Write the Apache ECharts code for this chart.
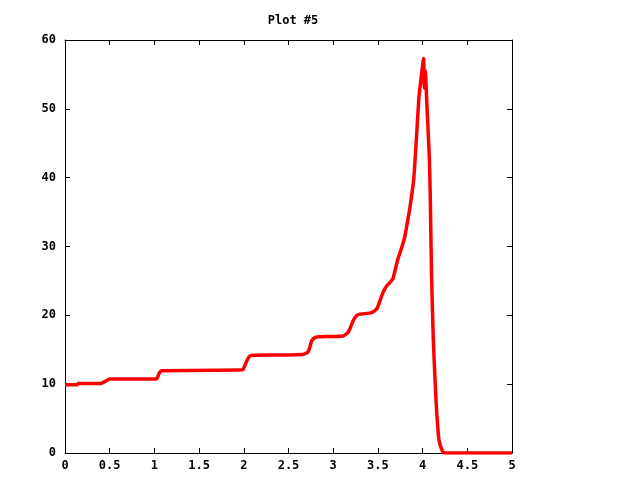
<!DOCTYPE html>
<html><head><meta charset="utf-8">
<script src="https://cdn.jsdelivr.net/npm/echarts@6/dist/echarts.min.js"></script>
<style>html,body{margin:0;padding:0;background:#fff}#c{width:640px;height:480px}</style>
</head><body><div id="c"></div>
<script>
const title = "Plot #5";
const xValues = [0,0.13,0.15,0.40,0.45,0.50,1.02,1.05,1.08,1.95,1.99,2.03,2.07,2.12,2.65,2.72,2.76,2.80,2.85,3.11,3.17,3.21,3.24,3.28,3.43,3.49,3.53,3.56,3.60,3.65,3.67,3.72,3.77,3.80,3.83,3.86,3.90,3.93,3.96,3.99,4.01,4.02,4.03,4.05,4.075,4.085,4.10,4.12,4.15,4.18,4.20,4.23,4.25,5.0];
const yValues = [9.9,9.9,10.1,10.1,10.4,10.75,10.75,11.5,11.95,12.05,12.1,13.3,14.1,14.2,14.3,14.7,16.3,16.8,16.9,17.0,17.6,18.8,19.6,20.1,20.4,21.0,22.4,23.4,24.3,25.0,25.4,28.0,30.0,31.4,33.5,35.8,39.7,45.5,51.8,55.2,57.3,53.0,55.5,50.0,43.0,37.8,26.0,16.4,7.7,2.2,1.0,0.1,0,0];
const data = xValues.map((x,i)=>[x,yValues[i]]);
const font = {fontFamily:'DejaVu Sans Mono', fontWeight:'bold', fontSize:12, color:'#000'};
const axLine = {show:true, onZero:false, lineStyle:{color:'#000', width:1}};
const tick = {show:true, inside:true, length:5, lineStyle:{color:'#000'}};
const chart = echarts.init(document.getElementById('c'), null, {renderer:'canvas'});
chart.setOption({
  animation:false,
  backgroundColor:'#fff',
  title:{text:title, left:288, top:10, textAlign:'center', textStyle:Object.assign({}, font)},
  grid:{left:65, right:128, top:40, bottom:27},
  xAxis:[
    {type:'value', min:0, max:5, interval:0.5, position:'bottom', axisLine:axLine, axisTick:tick, splitLine:{show:false}, axisLabel:Object.assign({margin:7}, font)},
    {type:'value', min:0, max:5, interval:0.5, position:'top', axisLine:axLine, axisTick:tick, splitLine:{show:false}, axisLabel:{show:false}}
  ],
  yAxis:[
    {type:'value', min:0, max:60, interval:10, position:'left', axisLine:axLine, axisTick:tick, splitLine:{show:false}, axisLabel:Object.assign({margin:9}, font)},
    {type:'value', min:0, max:60, interval:10, position:'right', axisLine:axLine, axisTick:tick, splitLine:{show:false}, axisLabel:{show:false}}
  ],
  series:[{type:'line', data:data, showSymbol:false, smooth:0.2, lineStyle:{color:'#ff0000', width:3.5}, itemStyle:{color:'#ff0000'}, clip:true}]
});
</script></body></html>
